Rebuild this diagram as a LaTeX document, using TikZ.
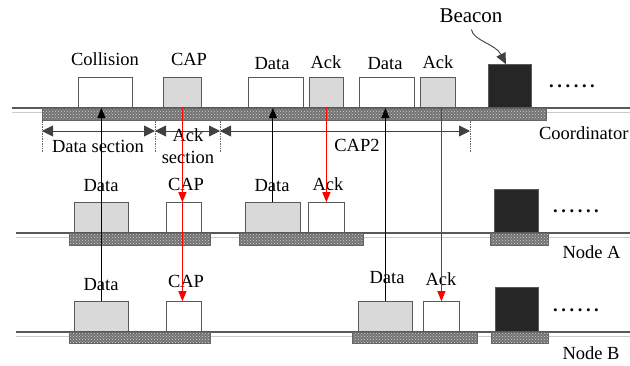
\documentclass[tikz,border=0pt]{standalone}
\usepackage{fontspec}
\setmainfont{Liberation Serif}
\usetikzlibrary{arrows.meta,patterns,positioning}
\newcommand\moredots{\textbf{.\kern3.6pt.\kern3.6pt.\kern3.6pt.\kern3.6pt.\kern3.6pt.}}

\begin{document}
\begin{tikzpicture}[x=1pt,y=-1pt,>={Triangle[length=10pt,width=8pt]},font=\fontsize{18.5}{21}\selectfont]
		\tikzstyle{slot}=[draw=black!65,line width=0.8pt,inner sep=0pt,minimum height=30pt,anchor=south west]
		\tikzstyle{idle}=[slot,fill=white]
		\tikzstyle{busy}=[slot,fill=black!15]
		\tikzstyle{bcn}=[slot,fill=black!85,minimum height=43pt]
		\tikzstyle{bar}=[draw=black!60,line width=0.6pt,inner sep=0pt,anchor=north west,minimum height=12pt,preaction={fill=black!55},pattern=crosshatch dots,pattern color=black!18]
		\tikzstyle{track}=[black!65,line width=1.1pt]
		\tikzstyle{shade}=[black!20,line width=1pt]
		\tikzstyle{guide}=[black!60,densely dotted,line width=0.7pt]
		\tikzstyle{dim}=[{Triangle[length=11pt,width=11pt]}-{Triangle[length=11pt,width=11pt]},black!75,line width=0.9pt]
		\tikzstyle{pointer}=[-{Triangle[length=11pt,width=10pt]},black!75,line width=0.9pt]
		\tikzstyle{uplink}=[->,black,line width=1pt]
		\tikzstyle{reply}=[->,red,line width=1pt]
		\useasboundingbox (0,0) rectangle (630,365);
		% channel lines
		\draw[shade] (12,112) -- (630,112);
		\draw[track] (12,108) -- (630,108);
		\draw[shade] (16,237) -- (630,237);
		\draw[track] (16,233) -- (630,233);
		\draw[shade] (16,336) -- (630,336);
		\draw[track] (16,332) -- (630,332);
		% busy periods
		\node[bar,minimum width=504pt] (cbar) at (42,108) {};
		\node[bar,minimum width=141pt] (abar1) at (69,233) {};
		\node[bar,minimum width=124pt] (abar2) at (239,233) {};
		\node[bar,minimum width=58pt] (abar3) at (490,233) {};
		\node[bar,minimum width=141pt,minimum height=11pt] (bbar1) at (69,332) {};
		\node[bar,minimum width=125pt,minimum height=11pt] (bbar2) at (352,332) {};
		\node[bar,minimum width=57pt,minimum height=11pt] (bbar3) at (491,332) {};
		% coordinator frames
		\node[idle,minimum width=54pt] (ccol) at (78,108) {};
		\node[busy,minimum width=38pt] (ccap) at (163,108) {};
		\node[idle,minimum width=55pt] (cdata1) at (248,108) {};
		\node[busy,minimum width=34pt] (cack1) at (309,108) {};
		\node[idle,minimum width=55pt] (cdata2) at (359,108) {};
		\node[busy,minimum width=35pt] (cack2) at (420,108) {};
		\node[bcn,minimum width=43pt] (cbcn) at (488,108) {};
		% node A frames
		\node[busy,minimum width=54pt] (adata1) at (74,233) {};
		\node[idle,minimum width=35pt] (acap) at (166,233) {};
		\node[busy,minimum width=55pt] (adata2) at (245,233) {};
		\node[idle,minimum width=36pt] (aack) at (308,233) {};
		\node[bcn,minimum width=44pt] (abcn) at (494,233) {};
		% node B frames
		\node[busy,minimum width=54pt] (bdata1) at (74,332) {};
		\node[idle,minimum width=35pt] (bcap) at (166,332) {};
		\node[busy,minimum width=54pt] (bdata2) at (358,332) {};
		\node[idle,minimum width=36pt] (back) at (423,332) {};
		\node[bcn,minimum width=43pt,minimum height=44pt] (bbcn) at (495,332) {};
		\node (cdots) at (572,86) {\moredots};
		\node (adots) at (576,211) {\moredots};
		\node (bdots) at (576,310) {\moredots};
		% labels
		\node (lcol) at (105,59) {Collision};
		\node (lccap) at (189,59) {CAP};
		\node (lcdata1) at (272,64) {Data};
		\node (lcack1) at (326,62) {Ack};
		\node (lcdata2) at (385,64) {Data};
		\node (lcack2) at (438,62) {Ack};
		\node[font=\fontsize{21}{24}\selectfont] (lbeacon) at (471,16) {Beacon};
		\node (ladata1) at (101,186) {Data};
		\node (lacap) at (186,184) {CAP};
		\node (ladata2) at (272,186) {Data};
		\node (laack) at (328,184) {Ack};
		\node (lbdata1) at (101,285) {Data};
		\node (lbcap) at (186,281) {CAP};
		\node (lbdata2) at (387,278) {Data};
		\node (lback) at (441,279) {Ack};
		\node[anchor=east] (lcoord) at (632,133) {Coordinator};
		\node[anchor=west] (lnodea) at (559,252) {Node A};
		\node[anchor=west] (lnodeb) at (559,353) {Node B};
		% sections
		\coordinate (m1) at (42,131);
		\coordinate (m2) at (155,131);
		\coordinate (m3) at (220,131);
		\coordinate (m4) at (470,131);
		\foreach \m in {m1,m2,m3,m4}
			\draw[guide] (\m |- cbar.south) -- ++(0,32);
		\draw[dim] (m1) -- (m2);
		\draw[dim] (m2) -- (m3);
		\draw[dim] (m3) -- (m4);
		\node (ldsec) at (98,146) {Data section};
		\node[align=center] (lasec) at (188,146) {Ack\\[1pt]section};
		\node (lcap2) at (357,145) {CAP2};
		\draw[pointer,shorten <=3pt] (lbeacon.south) .. controls +(2,14) and +(-10,-20) .. ([xshift=-4pt]cbcn.north);
		% transmissions
		\draw[uplink] (bdata1.north) -- (bdata1.north |- cbar.north);
		\draw[uplink] (adata2.north) -- (adata2.north |- cbar.north);
		\draw[uplink] (bdata2.north) -- (bdata2.north |- cbar.north);
		\draw[reply] (ccap.south) -- (ccap.south |- acap.north);
		\draw[reply] (ccap.south) -- (ccap.south |- bcap.north);
		\draw[reply] (cack1.south) -- (cack1.south |- aack.north);
		\draw[reply] (back.north |- cack2.south) -- (back.north);
\end{tikzpicture}
\end{document}
